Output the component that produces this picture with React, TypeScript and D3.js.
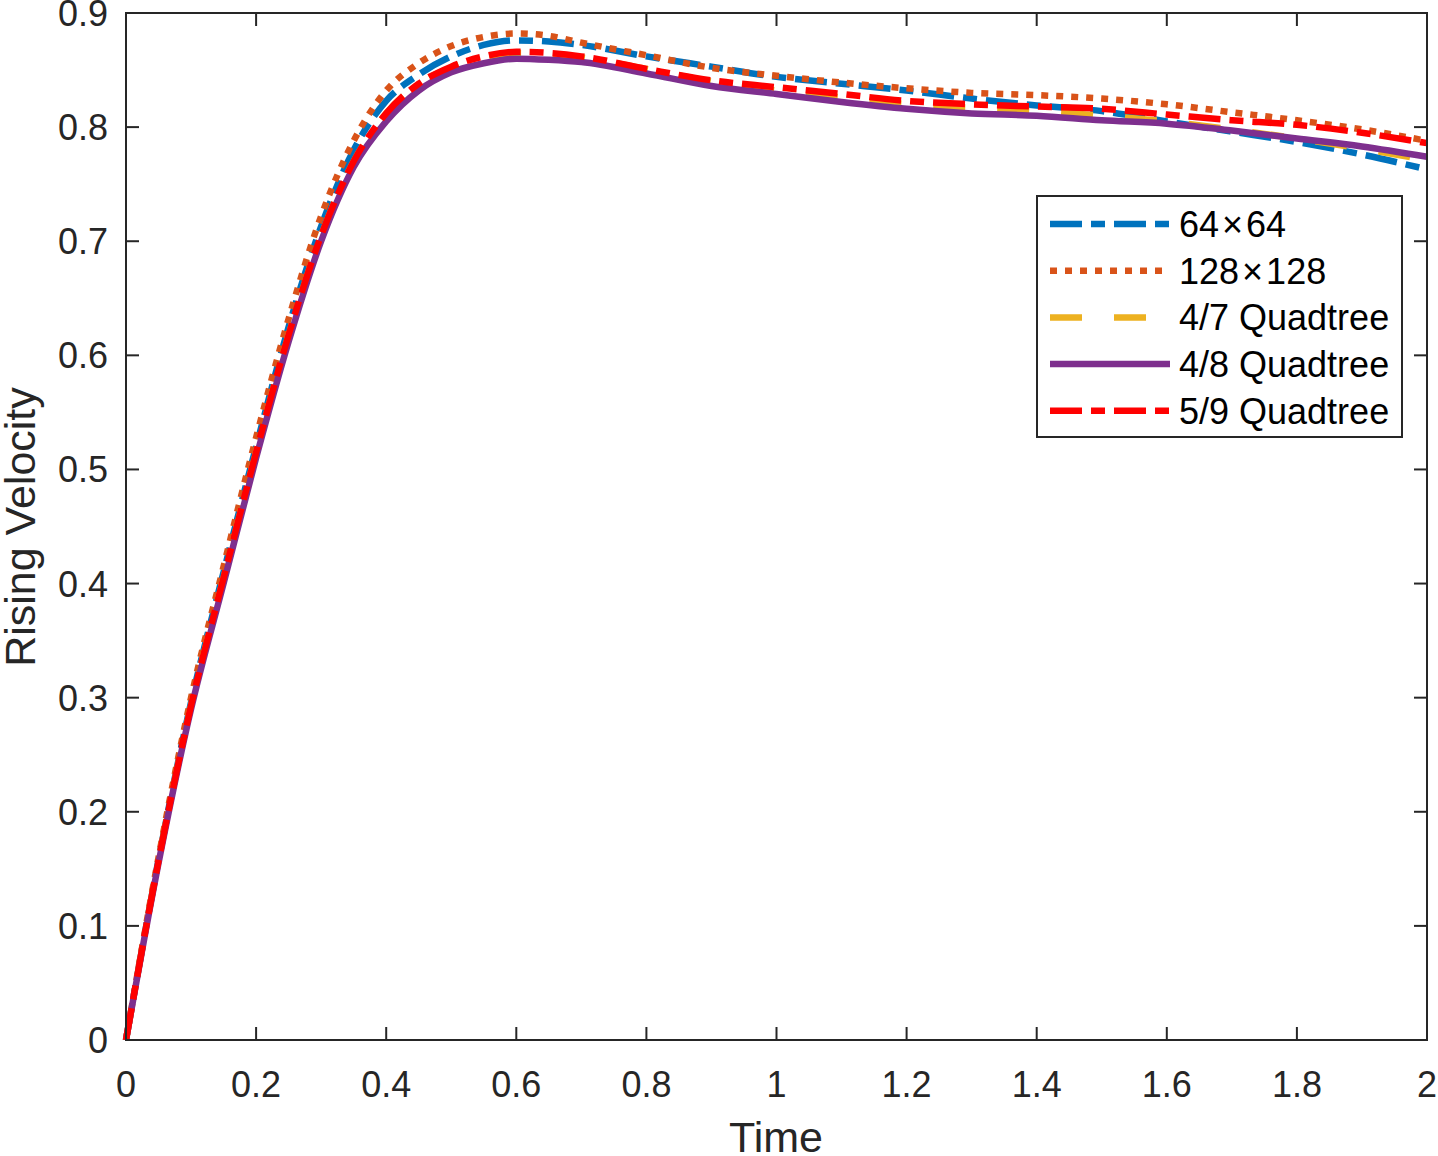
import * as d3 from "d3";

const WIDTH = 1438;
const HEIGHT = 1156;
const PLOT = { left: 126, right: 1427, top: 13, bottom: 1040 };

const times = [0, 0.05, 0.1, 0.15, 0.2, 0.25, 0.3, 0.35, 0.4, 0.45, 0.5, 0.55, 0.6, 0.65, 0.7, 0.8, 0.9, 1.0, 1.1, 1.2, 1.3, 1.4, 1.5, 1.6, 1.7, 1.8, 1.9, 2.0];

const grid64 = [0, 0.158, 0.296, 0.41, 0.52, 0.625, 0.713, 0.78, 0.823, 0.846, 0.862, 0.872, 0.876, 0.875, 0.872, 0.862, 0.853, 0.844, 0.838, 0.832, 0.825, 0.819, 0.814, 0.805, 0.796, 0.787, 0.776, 0.763];
const grid128 = [0, 0.16, 0.3, 0.415, 0.528, 0.632, 0.722, 0.788, 0.832, 0.856, 0.871, 0.879, 0.882, 0.88, 0.874, 0.863, 0.852, 0.845, 0.839, 0.834, 0.83, 0.828, 0.825, 0.82, 0.813, 0.806, 0.798, 0.788];
const quad47 = [0, 0.157, 0.293, 0.405, 0.515, 0.618, 0.705, 0.77, 0.812, 0.838, 0.852, 0.861, 0.865, 0.864, 0.861, 0.851, 0.84, 0.832, 0.826, 0.82, 0.817, 0.814, 0.81, 0.805, 0.798, 0.79, 0.781, 0.771];
const quad48 = [0, 0.155, 0.29, 0.4, 0.51, 0.612, 0.7, 0.765, 0.805, 0.832, 0.848, 0.856, 0.86, 0.859, 0.857, 0.847, 0.836, 0.829, 0.822, 0.816, 0.812, 0.81, 0.806, 0.803, 0.797, 0.79, 0.783, 0.774];
const quad59 = [0, 0.157, 0.293, 0.405, 0.515, 0.618, 0.705, 0.77, 0.812, 0.838, 0.853, 0.862, 0.866, 0.865, 0.862, 0.851, 0.841, 0.835, 0.829, 0.823, 0.82, 0.818, 0.816, 0.811, 0.806, 0.802, 0.795, 0.786];

const xTicks = [0, 0.2, 0.4, 0.6, 0.8, 1, 1.2, 1.4, 1.6, 1.8, 2];
const yTicks = [0, 0.1, 0.2, 0.3, 0.4, 0.5, 0.6, 0.7, 0.8, 0.9];

// label parts: two parts are joined by a times sign
const series = [
  { name: ["64", "64"], values: grid64, color: "#0072BD", dash: "32 9 14 9" },
  { name: ["128", "128"], values: grid128, color: "#D95319", dash: "7 8" },
  { name: ["4/7 Quadtree"], values: quad47, color: "#EDB120", dash: "32 32" },
  { name: ["4/8 Quadtree"], values: quad48, color: "#7E2F8E", dash: "none" },
  { name: ["5/9 Quadtree"], values: quad59, color: "#FF0000", dash: "32 9 14 9" },
];

const AXIS = "#262626";
const FONT = "'Liberation Sans', Arial, Helvetica, sans-serif";

export default function App() {
  const x = d3.scaleLinear().domain([0, 2]).range([PLOT.left, PLOT.right]);
  const y = d3.scaleLinear().domain([0, 0.9]).range([PLOT.bottom, PLOT.top]);
  const line = d3
    .line<number>()
    .x((_, i) => x(times[i]))
    .y((v) => y(v))
    .curve(d3.curveMonotoneX);

  const tickLen = 13;
  const legend = { x: 1037, y: 196, w: 365, h: 241, row0: 224, rowStep: 46.7 };

  return (
    <svg
      width={WIDTH}
      height={HEIGHT}
      viewBox={`0 0 ${WIDTH} ${HEIGHT}`}
      style={{ position: "absolute", left: 0, top: 0, background: "#fff" }}
      fontFamily={FONT}
    >
      <rect width={WIDTH} height={HEIGHT} fill="#fff" />

      {series.map((s) => (
        <path
          key={s.name.join("x")}
          d={line(s.values) ?? undefined}
          fill="none"
          stroke={s.color}
          strokeWidth={6.5}
          strokeDasharray={s.dash}
          strokeLinecap="butt"
          strokeLinejoin="round"
        />
      ))}

      {/* box and ticks */}
      <rect
        x={PLOT.left}
        y={PLOT.top}
        width={PLOT.right - PLOT.left}
        height={PLOT.bottom - PLOT.top}
        fill="none"
        stroke={AXIS}
        strokeWidth={2}
      />
      {xTicks.map((t) => (
        <g key={`x${t}`}>
          <line x1={x(t)} x2={x(t)} y1={PLOT.bottom} y2={PLOT.bottom - tickLen} stroke={AXIS} strokeWidth={2} />
          <line x1={x(t)} x2={x(t)} y1={PLOT.top} y2={PLOT.top + tickLen} stroke={AXIS} strokeWidth={2} />
          <text x={x(t)} y={1097} textAnchor="middle" fontSize={36} fill={AXIS}>
            {t}
          </text>
        </g>
      ))}
      {yTicks.map((t) => (
        <g key={`y${t}`}>
          <line x1={PLOT.left} x2={PLOT.left + tickLen} y1={y(t)} y2={y(t)} stroke={AXIS} strokeWidth={2} />
          <line x1={PLOT.right} x2={PLOT.right - tickLen} y1={y(t)} y2={y(t)} stroke={AXIS} strokeWidth={2} />
          <text x={108} y={y(t) + 13} textAnchor="end" fontSize={36} fill={AXIS}>
            {t}
          </text>
        </g>
      ))}

      <text x={776} y={1152} textAnchor="middle" fontSize={43} fill={AXIS}>
        Time
      </text>
      <text
        x={0}
        y={0}
        transform={`translate(35 527) rotate(-90)`}
        textAnchor="middle"
        fontSize={43}
        fill={AXIS}
      >
        Rising Velocity
      </text>

      {/* legend */}
      <rect x={legend.x} y={legend.y} width={legend.w} height={legend.h} fill="#fff" stroke={AXIS} strokeWidth={2} />
      {series.map((s, i) => {
        const cy = legend.row0 + i * legend.rowStep;
        return (
          <g key={`l${s.name.join("x")}`}>
            <line x1={1050} x2={1170} y1={cy} y2={cy} stroke={s.color} strokeWidth={6.5} strokeDasharray={s.dash} />
            <text x={1179} y={cy + 13} fontSize={36} fill="#000">
              {s.name.length === 2 ? (
                <>
                  {s.name[0]}
                  <tspan dx={3}>{"\u00d7"}</tspan>
                  <tspan dx={3}>{s.name[1]}</tspan>
                </>
              ) : (
                s.name[0]
              )}
            </text>
          </g>
        );
      })}
    </svg>
  );
}
